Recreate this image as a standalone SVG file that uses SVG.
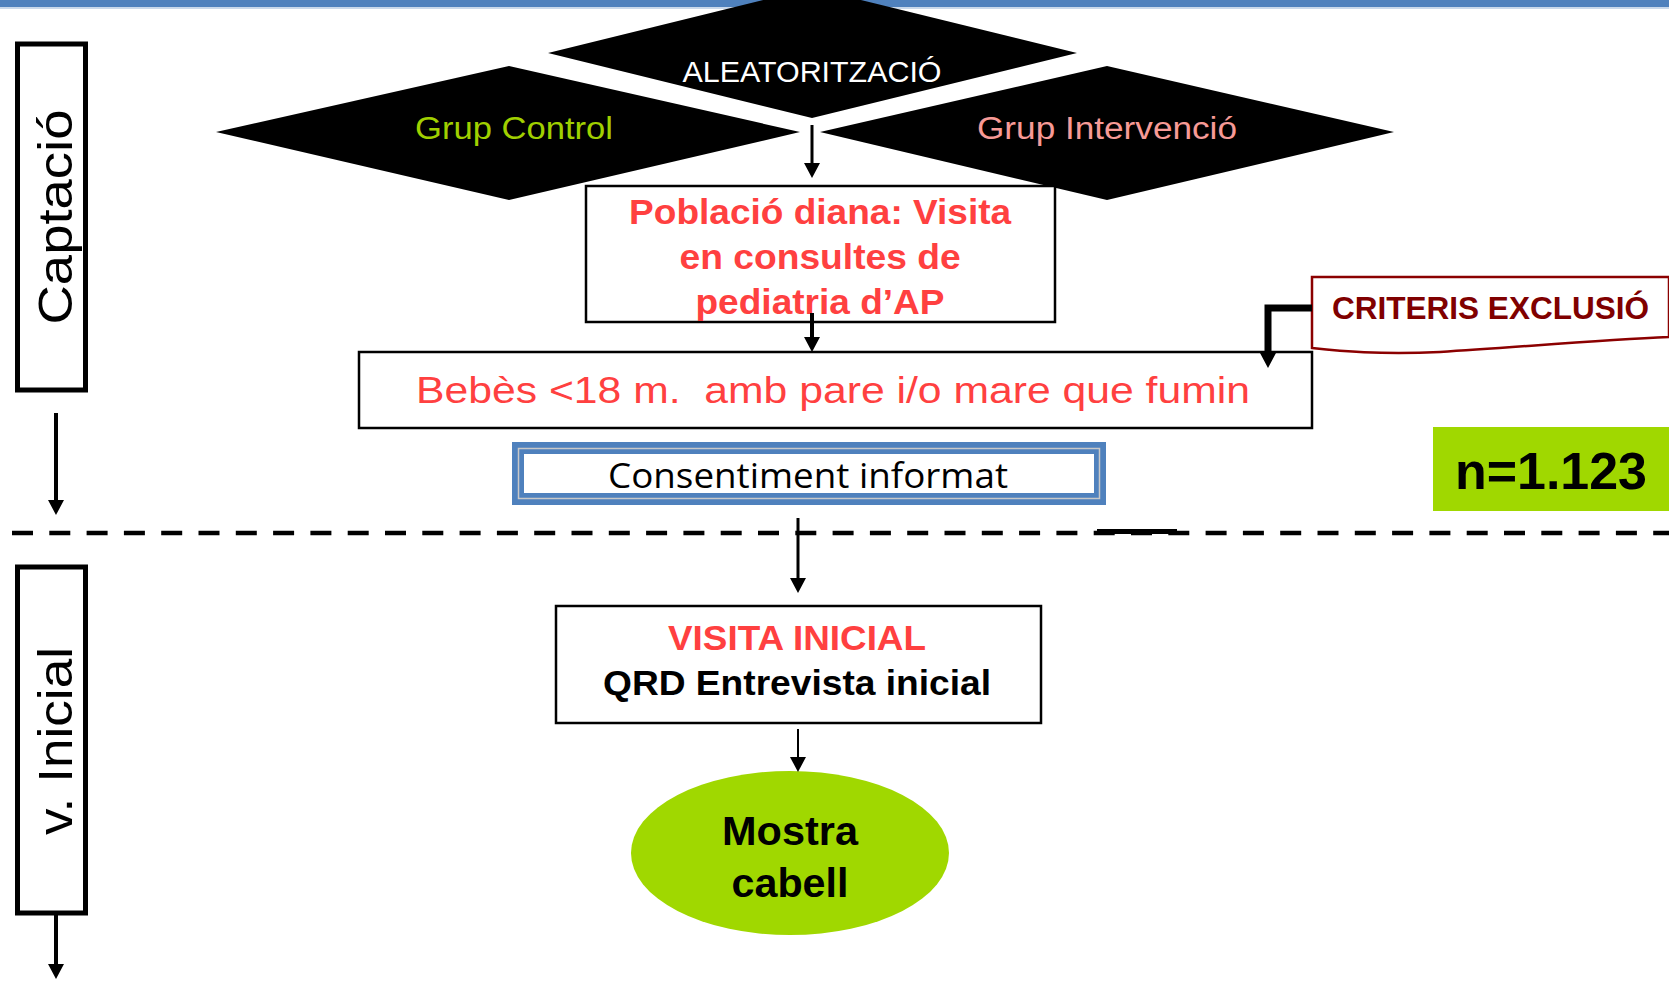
<svg xmlns="http://www.w3.org/2000/svg" width="1669" height="983" viewBox="0 0 1669 983">
<style>
.sans{font-family:"Liberation Sans",Arial,sans-serif}
.b{font-weight:bold}
.red{fill:#ff4040}
.box{fill:#fff;stroke:#000;stroke-width:2.5}
.side{fill:#fff;stroke:#000;stroke-width:5}
.conn{stroke:#000;fill:none;marker-end:url(#ah)}
.dia{fill:#000}
</style>
<defs>
<marker id="ah" markerUnits="userSpaceOnUse" markerWidth="16" markerHeight="16" viewBox="0 0 16 16" refX="0" refY="8" orient="auto">
<path d="M0,0 L15,8 L0,16 z" fill="#000"/>
</marker>
</defs>
<rect width="1669" height="983" fill="#fff"/>
<rect x="0" y="0" width="1669" height="7" fill="#4f81bd"/>
<line x1="0" y1="8" x2="1669" y2="8" stroke="#b8cce4" stroke-width="1.5"/>

<g id="lane-captacio">
<rect class="side" x="17.5" y="44" width="68" height="346"/>
<text class="sans" font-size="49" text-anchor="middle" transform="translate(72,217) rotate(-90)" textLength="215" lengthAdjust="spacingAndGlyphs">Captació</text>
</g>
<g id="lane-inicial">
<rect class="side" x="17.5" y="567" width="68" height="346"/>
<text class="sans" font-size="49" text-anchor="middle" transform="translate(72,741) rotate(-90)" textLength="188" lengthAdjust="spacingAndGlyphs">v. Inicial</text>
</g>

<g id="dashed-divider">
<line x1="12" y1="533" x2="1669" y2="533" stroke="#000" stroke-width="4.5" stroke-dasharray="21 16.3"/>
<line x1="1097" y1="531.5" x2="1177" y2="531.5" stroke="#000" stroke-width="5"/>
</g>

<g id="aleatoritzacio">
<polygon class="dia" points="548,53 812,-12 1077,53 812,118"/>
<text class="sans" font-size="30" fill="#fff" x="812" y="82" text-anchor="middle" textLength="259" lengthAdjust="spacingAndGlyphs">ALEATORITZACIÓ</text>
</g>
<g id="grup-control">
<polygon class="dia" points="216,132 509,66 800,132 509,200"/>
<text class="sans" font-size="31" fill="#a0d000" x="514" y="139" text-anchor="middle" textLength="198" lengthAdjust="spacingAndGlyphs">Grup Control</text>
</g>
<g id="grup-intervencio">
<polygon class="dia" points="820,132 1107,66 1394,132 1107,200"/>
<text class="sans" font-size="31" fill="#f79a96" x="1107" y="139" text-anchor="middle" textLength="260" lengthAdjust="spacingAndGlyphs">Grup Intervenció</text>
</g>

<g id="poblacio">
<rect class="box" x="586" y="186" width="469" height="136"/>
<text class="sans b red" font-size="35" text-anchor="middle">
<tspan x="825" y="224" textLength="382" lengthAdjust="spacingAndGlyphs">Població diana: Visita</tspan>
<tspan x="825" y="269" textLength="281" lengthAdjust="spacingAndGlyphs">en consultes de</tspan>
<tspan x="820" y="314" textLength="249" lengthAdjust="spacingAndGlyphs">pediatria d’AP</tspan>
</text>
</g>

<g id="bebes">
<rect class="box" x="359" y="352" width="953" height="76" stroke-width="2"/>
<text class="sans red" font-size="37" x="833" y="403" text-anchor="middle" xml:space="preserve" textLength="834" lengthAdjust="spacingAndGlyphs">Bebès &lt;18 m.  amb pare i/o mare que fumin</text>
</g>

<g id="criteris">
<path d="M1312,277 H1669 V337 C1600,340 1520,347 1440,352 C1380,355 1340,351 1312,348 Z" fill="#fff" stroke="#8b0000" stroke-width="2.5"/>
<text class="sans b" font-size="31" fill="#800000" x="1332" y="319" textLength="317" lengthAdjust="spacingAndGlyphs">CRITERIS EXCLUSIÓ</text>
</g>

<g id="n-total">
<rect x="1433" y="427" width="236" height="84" fill="#a0d800"/>
<text class="sans b" font-size="52" x="1551" y="489" text-anchor="middle" textLength="192" lengthAdjust="spacingAndGlyphs">n=1.123</text>
</g>

<g id="consentiment">
<rect x="518" y="448" width="582" height="51" fill="#fff" stroke="#4f81bd" stroke-width="12"/>
<rect x="518.5" y="448.5" width="581" height="50" fill="none" stroke="#c8c8c8" stroke-width="1.5"/>
<text font-family="'Open Sans','Noto Sans',sans-serif" font-size="35" x="808" y="488" text-anchor="middle" textLength="400" lengthAdjust="spacingAndGlyphs">Consentiment informat</text>
</g>

<g id="visita-inicial">
<rect class="box" x="556" y="606" width="485" height="117"/>
<text class="sans b red" font-size="35" x="797" y="650" text-anchor="middle" textLength="258" lengthAdjust="spacingAndGlyphs">VISITA INICIAL</text>
<text class="sans b" font-size="35" x="797" y="695" text-anchor="middle" textLength="388" lengthAdjust="spacingAndGlyphs">QRD Entrevista inicial</text>
</g>

<g id="mostra-cabell">
<ellipse cx="790" cy="853" rx="159" ry="82" fill="#a0d800"/>
<text class="sans b" font-size="40" x="790" y="845" text-anchor="middle" textLength="136" lengthAdjust="spacingAndGlyphs">Mostra</text>
<text class="sans b" font-size="40" x="790" y="897" text-anchor="middle" textLength="117" lengthAdjust="spacingAndGlyphs">cabell</text>
</g>

<g id="connectors">
<line class="conn" x1="812" y1="125" x2="812" y2="163" stroke-width="3"/>
<line class="conn" x1="812" y1="313" x2="812" y2="337" stroke-width="4"/>
<line class="conn" x1="798" y1="518" x2="798" y2="578" stroke-width="3"/>
<line class="conn" x1="798" y1="729" x2="798" y2="757" stroke-width="2"/>
<line class="conn" x1="56" y1="413" x2="56" y2="500" stroke-width="4"/>
<line class="conn" x1="56" y1="915" x2="56" y2="964" stroke-width="4"/>
<path class="conn" d="M1312,308 H1268 V353" stroke-width="7"/>
</g>
</svg>
